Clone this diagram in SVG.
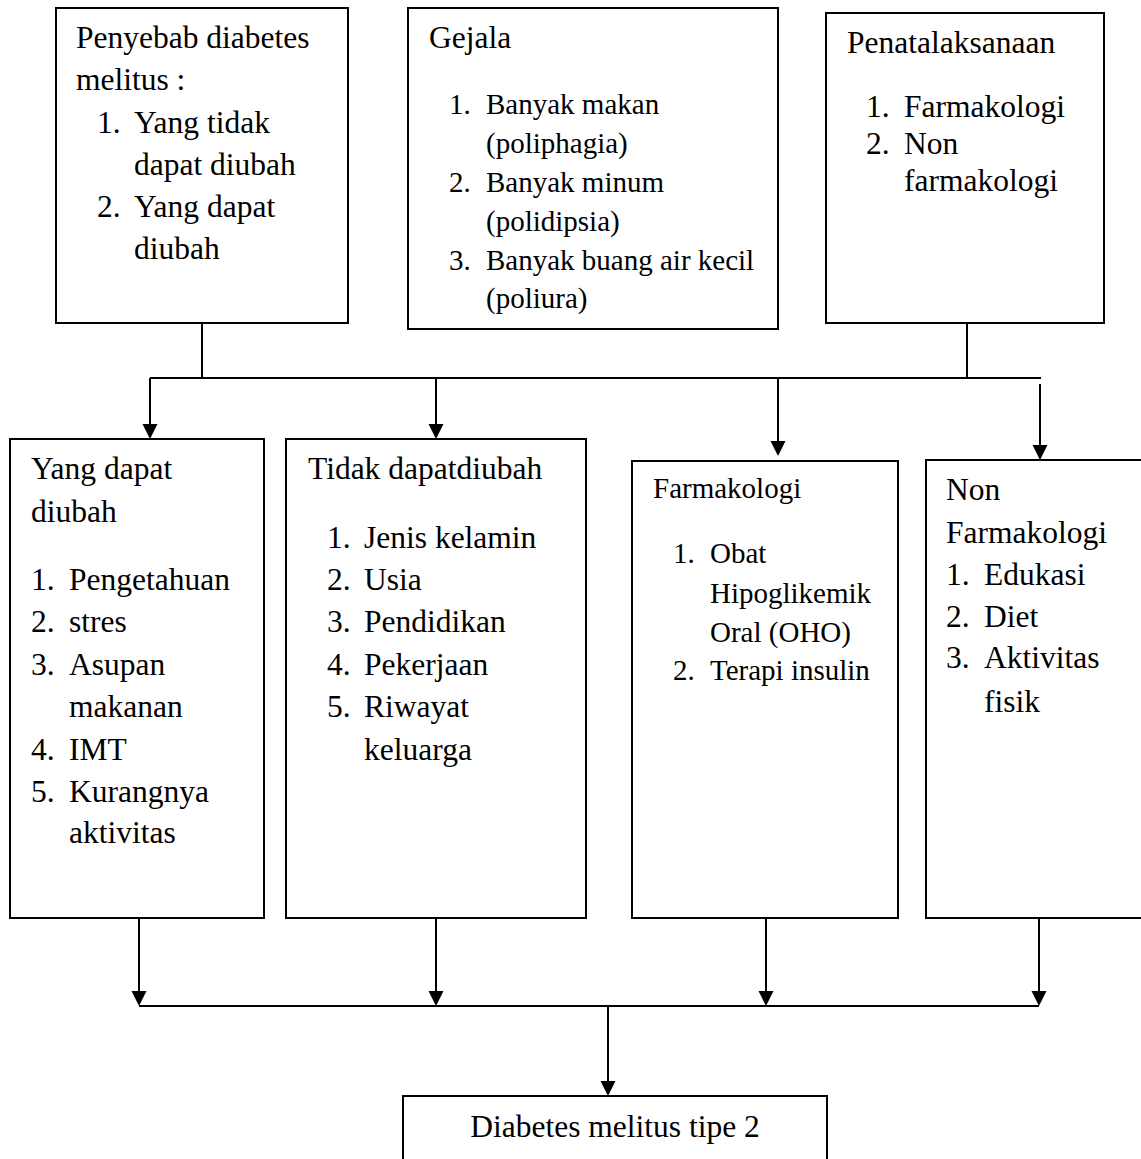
<svg xmlns="http://www.w3.org/2000/svg" xmlns:xlink="http://www.w3.org/1999/xlink" width="1141" height="1159" viewBox="0 0 1141 1159">
<style>
.box{fill:#fff;stroke:#000;stroke-width:2}
.t{font-family:"Liberation Serif","Times New Roman",serif;font-size:31.5px;fill:#000}
.s{font-size:29px}
.ln{fill:none;stroke:#000;stroke-width:2}
.ah{fill:#000}
</style>
<defs>
<path id="ahd" d="M-7.5,-15 L7.5,-15 L0,0 z"/>
</defs>
<rect width="1141" height="1159" fill="#fff"/>
<g id="penyebab">
<rect class="box" x="56" y="8" width="292" height="315"/>
<text class="t" x="76" y="48">Penyebab diabetes</text>
<text class="t" x="76" y="90">melitus :</text>
<text class="t" x="97" y="133">1.</text><text class="t" x="134" y="133">Yang tidak</text>
<text class="t" x="134" y="175">dapat diubah</text>
<text class="t" x="97" y="217">2.</text><text class="t" x="134" y="217">Yang dapat</text>
<text class="t" x="134" y="259">diubah</text>
</g>
<g id="gejala">
<rect class="box" x="408" y="8" width="370" height="321"/>
<text class="t" x="429" y="48">Gejala</text>
<text class="t s" x="449" y="114">1.</text><text class="t s" x="486" y="114">Banyak makan</text>
<text class="t s" x="486" y="153">(poliphagia)</text>
<text class="t s" x="449" y="192">2.</text><text class="t s" x="486" y="192">Banyak minum</text>
<text class="t s" x="486" y="231">(polidipsia)</text>
<text class="t s" x="449" y="270">3.</text><text class="t s" x="486" y="270">Banyak buang air kecil</text>
<text class="t s" x="486" y="308">(poliura)</text>
</g>
<g id="penatalaksanaan">
<rect class="box" x="826" y="13" width="278" height="310"/>
<text class="t" x="847" y="53">Penatalaksanaan</text>
<text class="t" x="866" y="117">1.</text><text class="t" x="904" y="117">Farmakologi</text>
<text class="t" x="866" y="154">2.</text><text class="t" x="904" y="154">Non</text>
<text class="t" x="904" y="191">farmakologi</text>
</g>
<g id="dapat-diubah">
<rect class="box" x="10" y="439" width="254" height="479"/>
<text class="t" x="31" y="479">Yang dapat</text>
<text class="t" x="31" y="522">diubah</text>
<text class="t" x="31" y="590">1.</text><text class="t" x="69" y="590">Pengetahuan</text>
<text class="t" x="31" y="632">2.</text><text class="t" x="69" y="632">stres</text>
<text class="t" x="31" y="675">3.</text><text class="t" x="69" y="675">Asupan</text>
<text class="t" x="69" y="717">makanan</text>
<text class="t" x="31" y="760">4.</text><text class="t" x="69" y="760">IMT</text>
<text class="t" x="31" y="802">5.</text><text class="t" x="69" y="802">Kurangnya</text>
<text class="t" x="69" y="843">aktivitas</text>
</g>
<g id="tidak-dapat-diubah">
<rect class="box" x="286" y="439" width="300" height="479"/>
<text class="t" x="308" y="479">Tidak dapatdiubah</text>
<text class="t" x="327" y="548">1.</text><text class="t" x="364" y="548">Jenis kelamin</text>
<text class="t" x="327" y="590">2.</text><text class="t" x="364" y="590">Usia</text>
<text class="t" x="327" y="632">3.</text><text class="t" x="364" y="632">Pendidikan</text>
<text class="t" x="327" y="675">4.</text><text class="t" x="364" y="675">Pekerjaan</text>
<text class="t" x="327" y="717">5.</text><text class="t" x="364" y="717">Riwayat</text>
<text class="t" x="364" y="760">keluarga</text>
</g>
<g id="farmakologi">
<rect class="box" x="632" y="461" width="266" height="457"/>
<text class="t s" x="653" y="498">Farmakologi</text>
<text class="t s" x="673" y="563">1.</text><text class="t s" x="710" y="563">Obat</text>
<text class="t s" x="710" y="603">Hipoglikemik</text>
<text class="t s" x="710" y="642">Oral (OHO)</text>
<text class="t s" x="673" y="680">2.</text><text class="t s" x="710" y="680">Terapi insulin</text>
</g>
<g id="non-farmakologi">
<rect class="box" x="926" y="460" width="230" height="458"/>
<text class="t" x="946" y="500">Non</text>
<text class="t" x="946" y="543">Farmakologi</text>
<text class="t" x="946" y="585">1.</text><text class="t" x="984" y="585">Edukasi</text>
<text class="t" x="946" y="627">2.</text><text class="t" x="984" y="627">Diet</text>
<text class="t" x="946" y="668">3.</text><text class="t" x="984" y="668">Aktivitas</text>
<text class="t" x="984" y="712">fisik</text>
</g>
<g id="dm-tipe-2">
<rect class="box" x="403" y="1096" width="424" height="80"/>
<text class="t" x="615" y="1137" text-anchor="middle">Diabetes melitus tipe 2</text>
</g>
<g id="connectors">
<path class="ln" d="M202,324 V378 M150,378 H1041 M967,323 V378"/>
<path class="ln" d="M150,378 V426 M436,378 V426 M778,378 V442 M1040,384 V446"/>
<path class="ln" d="M139,918 V994 M436,918 V994 M766,918 V994 M1039,918 V994 M139,1006 H1039 M608,1006 V1084"/>
<use class="ah" href="#ahd" xlink:href="#ahd" x="150" y="439"/>
<use class="ah" href="#ahd" xlink:href="#ahd" x="436" y="439"/>
<use class="ah" href="#ahd" xlink:href="#ahd" x="778" y="456"/>
<use class="ah" href="#ahd" xlink:href="#ahd" x="1040" y="460"/>
<use class="ah" href="#ahd" xlink:href="#ahd" x="139" y="1006"/>
<use class="ah" href="#ahd" xlink:href="#ahd" x="436" y="1006"/>
<use class="ah" href="#ahd" xlink:href="#ahd" x="766" y="1006"/>
<use class="ah" href="#ahd" xlink:href="#ahd" x="1039" y="1006"/>
<use class="ah" href="#ahd" xlink:href="#ahd" x="608" y="1096"/>
</g>
</svg>
